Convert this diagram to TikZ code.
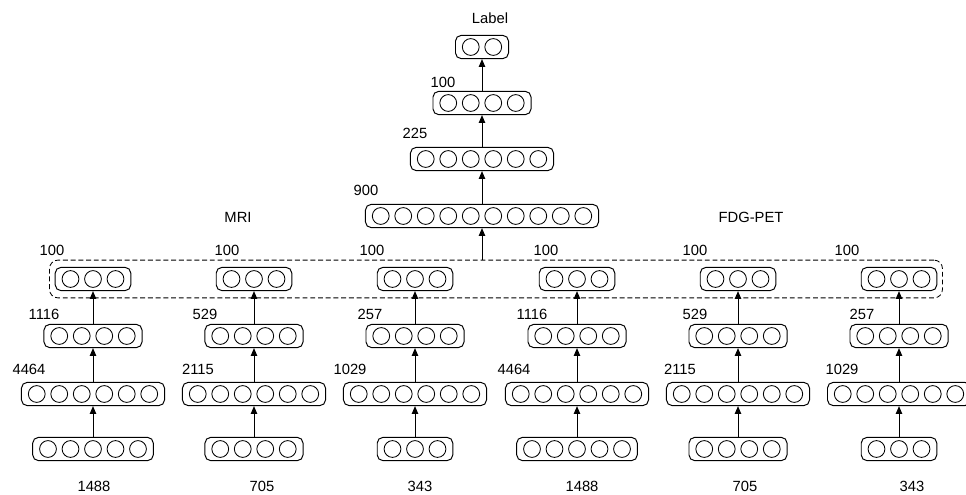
\documentclass[tikz,border=0pt]{standalone}
\usepackage{fontspec}
\setmainfont{Liberation Sans}
\usetikzlibrary{positioning, arrows.meta, calc, fit}

% one layer: rounded box with n unit circles, spaced evenly
\newcommand{\layer}[3]{%
  \node[layerbox, minimum width={(#2*0.5625+0.2)*1cm}] (#1) at (#3) {};
  \foreach \k in {1,...,#2}
    \node[unit, xshift={(\k-(#2+1)/2)*0.5625cm}] at (#1.center) {};
}

\begin{document}
\begin{tikzpicture}[
  x=0.025cm, y=-0.025cm,
  layerbox/.style={
    rectangle, draw, line width=0.7pt, rounded corners=4pt,
    minimum height=0.58cm, inner sep=0pt
  },
  unit/.style={
    circle, draw, line width=0.6pt, minimum size=0.42cm, inner sep=0pt
  },
  groupbox/.style={
    rectangle, draw, dash pattern=on 3.5pt off 2pt, line width=0.6pt,
    rounded corners=6pt, inner xsep=0.13cm, inner ysep=0.17cm
  },
  dim/.style={font=\fontsize{10.5}{12}\selectfont, inner sep=0pt},
  pipe/.style={-{Triangle[length=5.5pt, width=4.5pt]}, line width=0.7pt},
]

\useasboundingbox (0,0) rectangle (966,494);
\clip (0,0) rectangle (966,494);

%% ── Modality branches ────────────────────────────────────────────────────────
\foreach \i/\x/\n in {1/93/5, 2/254/4, 3/415/3, 4/577/5, 5/738/4, 6/899/3}{
  \layer{in\i}{\n}{\x,449}
  \layer{hA\i}{6}{\x,394}
  \layer{hB\i}{4}{\x,336}
  \layer{hC\i}{3}{\x,279}
  \draw[pipe] (in\i.north) -- (hA\i.south);
  \draw[pipe] (hA\i.north) -- (hB\i.south);
  \draw[pipe] (hB\i.north) -- (hC\i.south);
}

%% ── Shared layers ────────────────────────────────────────────────────────────
\node[groupbox, fit=(hC1)(hC6)] (modal) {};

\layer{joint}{10}{482,216}
\layer{topA}{6}{482,159}
\layer{topB}{4}{482,103}
\layer{outp}{2}{482,47}

\draw[pipe] (modal.north -| joint.south) -- (joint.south);
\draw[pipe] (joint.north) -- (topA.south);
\draw[pipe] (topA.north) -- (topB.south);
\draw[pipe] (topB.north) -- (outp.south);

%% ── Sizes and titles ─────────────────────────────────────────────────────────
\node[dim] (lbl)   at (490,18)  {Label};
\node[dim] (n100)  at (443,82)  {100};
\node[dim] (n225)  at (415,133) {225};
\node[dim] (n900)  at (366,190) {900};
\node[dim] (mri)   at (238,217) {MRI};
\node[dim] (pet)   at (751,217) {FDG-PET};

\node[dim] (a1) at (52,250)  {100};
\node[dim] (b1) at (44,314)  {1116};
\node[dim] (c1) at (29,369)  {4464};
\node[dim] (d1) at (94,486)  {1488};

\node[dim] (a2) at (227,250) {100};
\node[dim] (b2) at (205,314) {529};
\node[dim] (c2) at (198,369) {2115};
\node[dim] (d2) at (262,486) {705};

\node[dim] (a3) at (372,250) {100};
\node[dim] (b3) at (370,314) {257};
\node[dim] (c3) at (350,369) {1029};
\node[dim] (d3) at (420,486) {343};

\node[dim] (a4) at (546,250) {100};
\node[dim] (b4) at (532,314) {1116};
\node[dim] (c4) at (514,369) {4464};
\node[dim] (d4) at (582,486) {1488};

\node[dim] (a5) at (695,250) {100};
\node[dim] (b5) at (695,314) {529};
\node[dim] (c5) at (680,369) {2115};
\node[dim] (d5) at (745,486) {705};

\node[dim] (a6) at (847,250) {100};
\node[dim] (b6) at (862,314) {257};
\node[dim] (c6) at (842,369) {1029};
\node[dim] (d6) at (912,486) {343};

\end{tikzpicture}
\end{document}
